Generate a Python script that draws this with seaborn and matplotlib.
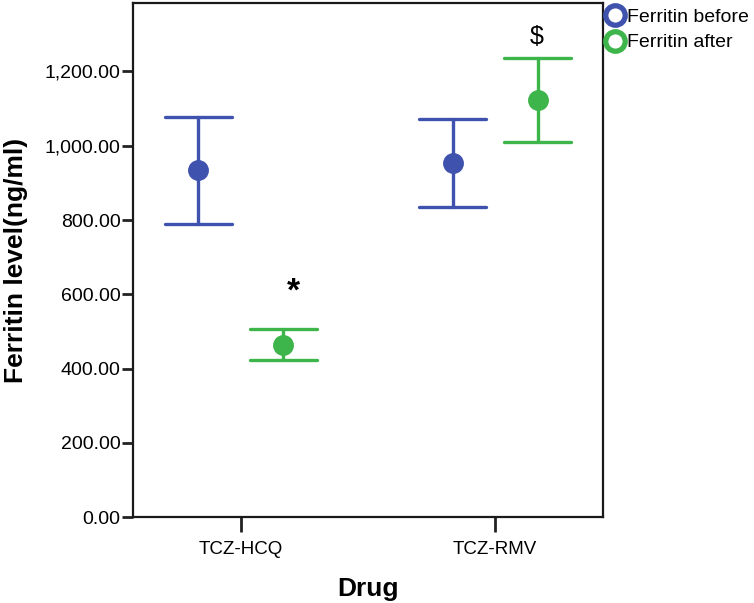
import numpy as np
import pandas as pd
import matplotlib
matplotlib.use("Agg")
import matplotlib.pyplot as plt
from matplotlib.lines import Line2D
import seaborn as sns

# ---- data ----
drugs = ["TCZ-HCQ", "TCZ-RMV"]
series = ["Ferritin before", "Ferritin after"]
mean_before = [934, 954]
lower_before = [789, 834]
upper_before = [1078, 1072]
mean_after = [463, 1122]
lower_after = [423, 1010]
upper_after = [506, 1235]
y_ticks = [0, 200, 400, 600, 800, 1000, 1200]

# long-form table: each group holds (lower, mean, upper); median + 100% interval
rows = []
for i, d in enumerate(drugs):
    for s, lo, mu, up in [(series[0], lower_before[i], mean_before[i], upper_before[i]),
                          (series[1], lower_after[i], mean_after[i], upper_after[i])]:
        for v in (lo, mu, up):
            rows.append({"Drug": d, "Series": s, "Ferritin": v})
df = pd.DataFrame(rows)

sns.set_theme(style="ticks")
plt.rcParams["font.family"] = ["Liberation Sans", "DejaVu Sans"]
plt.rcParams["text.color"] = "black"
plt.rcParams["axes.labelcolor"] = "black"
plt.rcParams["xtick.color"] = "black"
plt.rcParams["ytick.color"] = "black"

blue = "#3F52AE"
green = "#3DB54A"
palette = {series[0]: blue, series[1]: green}

fig = plt.figure(figsize=(7.54, 6.03), dpi=100)
ax = fig.add_axes([133 / 754, 1 - 517.3 / 603, (603 - 133) / 754, (517.3 - 3) / 603])

sns.pointplot(data=df, x="Drug", y="Ferritin", hue="Series", order=drugs,
              hue_order=series, palette=palette, estimator="median",
              errorbar=("pi", 100), dodge=0.334, capsize=0.262,
              linestyles="none", markers="o", markersize=13,
              err_kws={"linewidth": 2.4}, legend=False, ax=ax)

ax.set_xlim(-0.4235, 1.4235)
ax.set_ylim(0, 1384)
ax.set_yticks(y_ticks)
ax.set_yticklabels([f"{v:,.2f}" for v in y_ticks])
ax.tick_params(axis="y", labelsize=14, length=8, width=2, color="#222222",
               labelcolor="black", pad=1)
ax.tick_params(axis="x", labelsize=13.5, length=11, width=2, color="#222222",
               labelcolor="black", pad=6)
for sp in ax.spines.values():
    sp.set_visible(True)
    sp.set_linewidth(1.6)
    sp.set_color("#1a1a1a")

ax.set_xlabel("Drug", fontsize=19, fontweight="bold", labelpad=14, color="black")
ax.set_ylabel("Ferritin level(ng/ml)", fontsize=19, fontweight="bold", labelpad=12, color="black")

# significance marks
ax.text(0.205, 605, "*", fontsize=24, fontweight="bold", ha="center", va="center", color="black")
ax.text(1.164, 1293, "$", fontsize=18, ha="center", va="center", color="black")

handles = [Line2D([], [], linestyle="none", marker="o", markersize=14,
                  markerfacecolor="white", markeredgecolor=c, markeredgewidth=3.8)
           for c in (blue, green)]
fig.legend(handles, series, loc="upper left", bbox_to_anchor=(605 / 754, 1 - 8 / 603),
           frameon=False, fontsize=14, handlelength=1.0, handletextpad=0.15,
           labelspacing=0.42, borderpad=0, borderaxespad=0, labelcolor="black")

fig.savefig("out.png", dpi=100)
